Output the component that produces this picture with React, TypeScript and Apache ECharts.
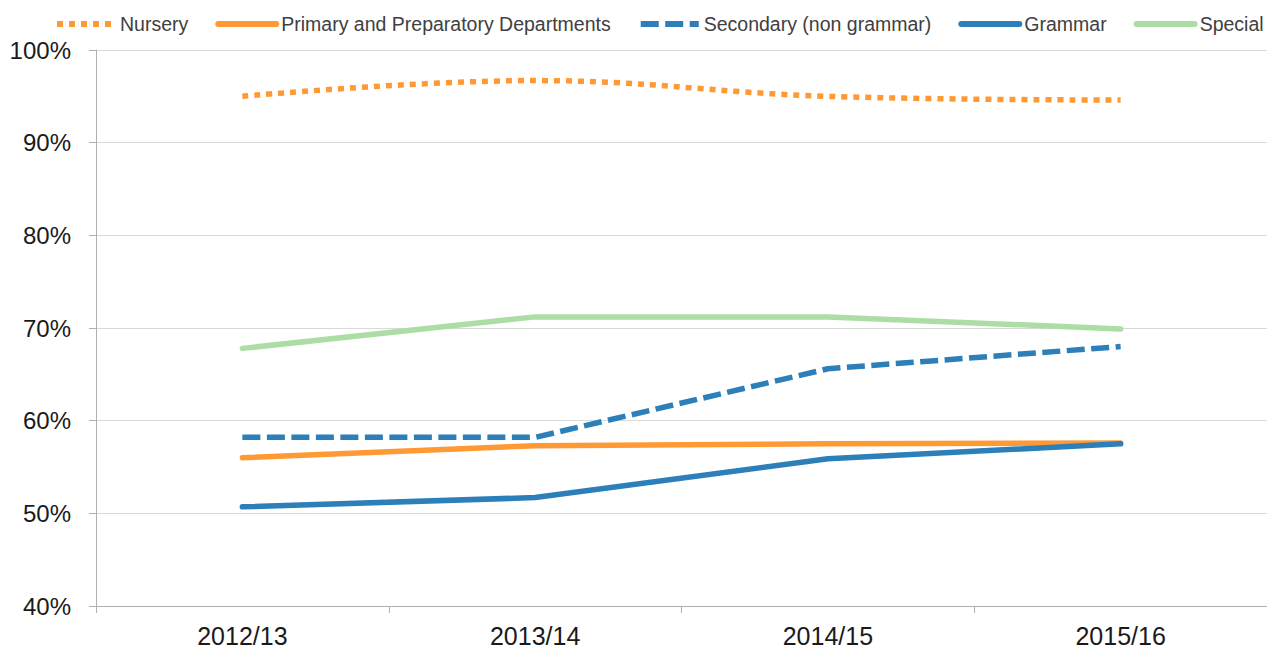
import React, { useEffect, useRef } from "react";
import * as echarts from "echarts";

const categories = ["2012/13", "2013/14", "2014/15", "2015/16"];
const nursery = [95.0, 96.7, 95.0, 94.6];
const primary = [56.0, 57.3, 57.5, 57.6];
const secondary = [58.2, 58.2, 65.6, 68.0];
const grammar = [50.7, 51.7, 55.9, 57.5];
const special = [67.8, 71.2, 71.2, 69.9];
const seriesNames = [
  "Nursery",
  "Primary and Preparatory Departments",
  "Secondary (non grammar)",
  "Grammar",
  "Special",
];

const ORANGE = "#ff9933";
const BLUE = "#2c7fb8";
const GREEN = "#abdda4";

export default function App() {
  const ref = useRef<HTMLDivElement>(null);
  useEffect(() => {
    if (!ref.current) return;
    const chart = echarts.init(ref.current, null, { renderer: "svg" });
    const mk = (name: string, data: number[], color: string, extra: any) => ({
      name,
      type: "line",
      data,
      symbol: "none",
      showSymbol: false,
      itemStyle: { color },
      lineStyle: { color, width: 5.5, cap: "round", join: "round", ...extra },
      z: 2,
    });
    chart.setOption({
      animation: false,
      backgroundColor: "#ffffff",
      legend: {
        top: 14,
        left: 54,
        width: 1260,
        padding: 0,
        itemWidth: 58,
        itemHeight: 12,
        itemGap: 27,
        itemStyle: { opacity: 0 },
        lineStyle: { width: 6 },
        textStyle: {
          fontFamily: "Liberation Sans",
          fontSize: 19.5,
          color: "#404040",
        },
        data: seriesNames,
      },
      grid: { left: 96, right: 0, top: 50, bottom: 42 },
      xAxis: {
        type: "category",
        data: categories,
        boundaryGap: true,
        axisLine: { lineStyle: { color: "#b0b0b0", width: 1 } },
        axisTick: { show: true, length: 7, lineStyle: { color: "#b0b0b0" } },
        axisLabel: {
          color: "#1a1a1a",
          fontFamily: "Liberation Sans",
          fontSize: 25,
          margin: 17,
        },
        splitLine: { show: false },
      },
      yAxis: {
        type: "value",
        min: 40,
        max: 100,
        interval: 10,
        axisLine: { show: true, lineStyle: { color: "#b0b0b0", width: 1 } },
        axisTick: { show: true, length: 7, lineStyle: { color: "#b0b0b0" } },
        axisLabel: {
          color: "#1a1a1a",
          fontFamily: "Liberation Sans",
          fontSize: 24,
          margin: 25,
          formatter: "{value}%",
        },
        splitLine: { show: true, lineStyle: { color: "#d9d9d9", width: 1 } },
      },
      series: [
        { ...mk(seriesNames[0], nursery, ORANGE, { type: [6, 6], cap: "butt" }), smooth: 0.4 },
        mk(seriesNames[1], primary, ORANGE, {}),
        mk(seriesNames[2], secondary, BLUE, { type: [18, 6.5], cap: "butt" }),
        mk(seriesNames[3], grammar, BLUE, {}),
        mk(seriesNames[4], special, GREEN, {}),
      ],
    });
    return () => chart.dispose();
  }, []);
  return (
    <div
      ref={ref}
      style={{ position: "fixed", left: 0, top: 0, width: 1267, height: 648 }}
    />
  );
}
